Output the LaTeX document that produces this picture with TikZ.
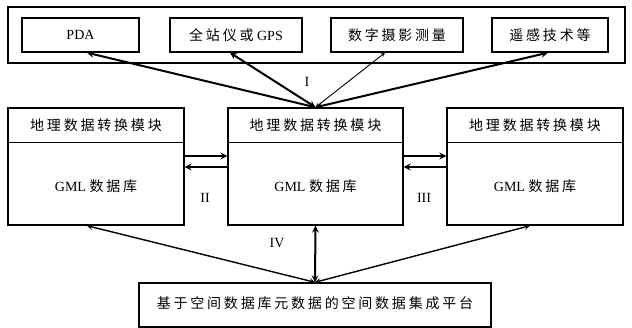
\documentclass[tikz,border=0pt]{standalone}
\usepackage{fontspec}
\setmainfont{Liberation Serif}
\newfontfamily\cjk[LetterSpace=20]{Noto Sans CJK SC}
\usetikzlibrary{calc,arrows}
\tikzstyle{frame} = [rectangle, draw=black, line width=1.4pt, minimum width=617pt, minimum height=56pt]
\tikzstyle{srcbox} = [rectangle, draw=black, line width=1.4pt, minimum height=34pt, text centered, font=\fontsize{14pt}{16pt}\selectfont]
\tikzstyle{modbox} = [rectangle, draw=black, line width=1.4pt, minimum width=176pt, minimum height=117pt]
\tikzstyle{modtext} = [font=\fontsize{14pt}{16pt}\selectfont]
\tikzstyle{platform} = [rectangle, draw=black, line width=1.4pt, minimum width=352pt, minimum height=44pt, font=\fontsize{14pt}{16pt}\selectfont]
\tikzstyle{arrow} = [line width=2pt,->,>=stealth]
\tikzstyle{darrow} = [line width=2pt,<->,>=stealth]

\begin{document}
\begin{tikzpicture}[x=1pt,y=-1pt]
\useasboundingbox (0,0) rectangle (632,328);
\node (src) [frame] at (316.5,35) {};
\node (pda) [srcbox, minimum width=117pt] at (80.5,35) {PDA};
\node (gps) [srcbox, minimum width=132pt] at (236,35) {{\cjk 全站仪或} GPS};
\node (photo) [srcbox, minimum width=132pt] at (397,35) {\cjk 数字摄影测量};
\node (rs) [srcbox, minimum width=116pt] at (550,35) {\cjk 遥感技术等};

\node (m1) [modbox] at (96,166.5) {};
\node (m2) [modbox, minimum width=175pt] at (315.5,166.5) {};
\node (m3) [modbox] at (535,166.5) {};
\foreach \m in {m1,m2,m3}{
  \draw [line width=1.4pt] ([yshift=-35pt]\m.north west) -- ([yshift=-35pt]\m.north east);
  \node (\m head) [modtext] at ([yshift=-17.5pt]\m.north) {\cjk 地理数据转换模块};
  \node (\m body) [modtext] at ([yshift=-20pt]\m.center) {GML {\cjk 数据库}};
}

\node (plat) [platform] at (315,305) {\raisebox{5pt}{\cjk 基于空间数据库元数据的空间数据集成平台}};

\draw [darrow] (m2.north) -- ([xshift=6.5pt]pda.south);
\draw [darrow] (m2.north) -- ([xshift=-6pt]gps.south);
\draw [darrow, line width=0.9pt] (m2.north) -- ([xshift=-12pt]photo.south);
\draw [darrow] (m2.north) -- ([xshift=-2pt]rs.south);
\node (l1) [modtext] at (307,82) {I};

\draw [arrow] ([yshift=10.5pt]m1.east) -- ([yshift=10.5pt]m2.west);
\draw [arrow] ([yshift=-0.5pt]m2.west) -- ([yshift=-0.5pt]m1.east);
\draw [arrow] ([yshift=10.5pt]m2.east) -- ([yshift=10.5pt]m3.west);
\draw [arrow] ([yshift=-0.5pt]m3.west) -- ([yshift=-0.5pt]m2.east);
\node (l2) [modtext] at (205,198) {II};
\node (l3) [modtext] at (424,198) {III};

\draw [darrow, line width=1.4pt] (plat.north) -- ([xshift=-9pt]m1.south);
\draw [darrow] (plat.north) -- (m2.south);
\draw [darrow, line width=1.4pt] (plat.north) -- ([xshift=-5pt]m3.south);
\node (l4) [modtext] at (277,243) {IV};
\end{tikzpicture}
\end{document}
